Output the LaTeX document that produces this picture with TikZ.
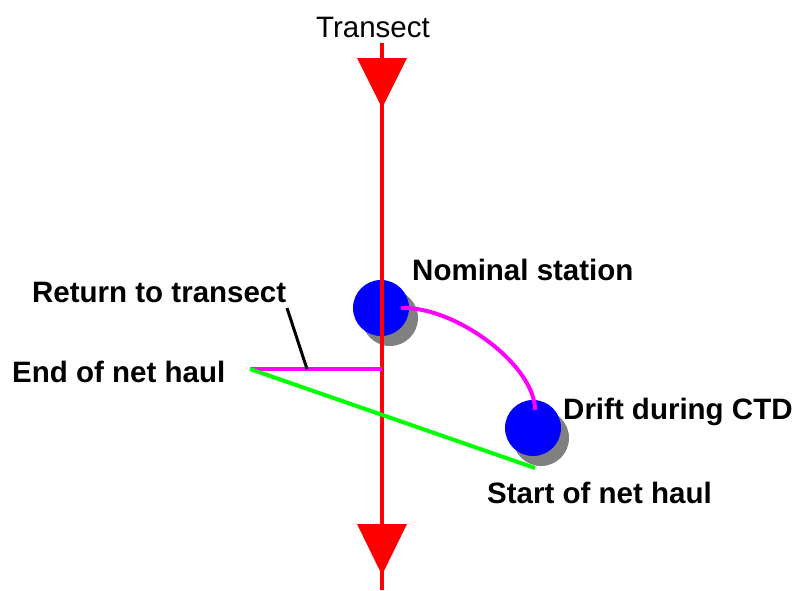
\documentclass[tikz,border=0pt]{standalone}
\usepackage{fontspec}
\setmainfont{Liberation Sans}
\usetikzlibrary{calc}
\definecolor{cred}{RGB}{255,0,0}
\definecolor{cblue}{RGB}{0,0,255}
\definecolor{cmag}{RGB}{255,0,255}
\definecolor{cgreen}{RGB}{0,255,0}
\definecolor{cgray}{RGB}{128,128,128}
\begin{document}
\begin{tikzpicture}[x=1pt,y=-1pt,
  lbl/.style={anchor=west,inner sep=0pt,font=\fontsize{29.5}{34}\selectfont\bfseries},
  station/.style={circle,fill=cblue,minimum size=56pt,inner sep=0pt},
  shadowc/.style={circle,fill=cgray,minimum size=56pt,inner sep=0pt},
  redline/.style={cred,line width=4pt},
  pathline/.style={line width=4pt}]
\useasboundingbox (0,0) rectangle (796,590);
% transect
\node[inner sep=0pt,font=\fontsize{29.5}{34}\selectfont] (trans) at (373,27) {Transect};
\coordinate (ttop) at (382,43);
\coordinate (tbot) at (382,590);
\draw[redline] (ttop) -- (tbot);
\coordinate (a1) at (382,108);
\coordinate (a2) at (382,575);
\fill[cred] ($(a1)+(-25,-50)$) -- ($(a1)+(25,-50)$) -- (a1) -- cycle;
\fill[cred] ($(a2)+(-25,-51)$) -- ($(a2)+(25,-51)$) -- (a2) -- cycle;
% stations
\node[shadowc] (s1sh) at (390,318) {};
\node[station] (s1) at (381,308) {};
\node[shadowc] (s2sh) at (541,438) {};
\node[station] (s2) at (533,428) {};
\draw[redline] (382,275) -- (382,345);
% labels
\node[lbl] (nom) at (412,270) {Nominal station};
\node[lbl] (drift) at (563,412) {Drift during CTD};
\node[lbl] (ret) at (32,292) {Return to transect};
\node[lbl] (endh) at (12,372) {End of net haul};
\node[lbl] (starth) at (487,493) {Start of net haul};
% paths
\coordinate (arcS) at (401,308);
\coordinate (arcE) at (535,410);
\draw[cmag,pathline] (arcS) .. controls (455,306) and (535,365) .. (arcE);
\coordinate (endpt) at (250,369);
\coordinate (retpt) at (382,369);
\coordinate (startpt) at (535,468);
\draw[cmag,pathline] (endpt) -- (retpt);
\draw[cgreen,pathline] (endpt) -- (startpt);
\coordinate (leadA) at (287,308);
\coordinate (leadB) at (307,369);
\draw[black,line width=3pt] (leadA) -- (leadB);
\end{tikzpicture}
\end{document}
